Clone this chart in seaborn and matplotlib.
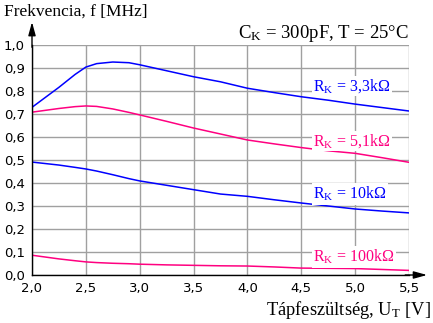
import matplotlib
matplotlib.use("Agg")
import matplotlib.pyplot as plt
import seaborn as sns
import pandas as pd

# ---- data ----
u_t = [2.0, 2.25, 2.4, 2.5, 2.6, 2.75, 2.9, 3.0, 3.25, 3.5, 3.75, 4.0, 4.25, 4.5, 4.75, 5.0, 5.25, 5.5]
f_3k3 = [0.729, 0.816, 0.872, 0.904, 0.919, 0.926, 0.923, 0.914, 0.888, 0.862, 0.840, 0.812, 0.793, 0.775, 0.760, 0.743, 0.728, 0.713]
f_5k1 = [0.708, 0.724, 0.732, 0.735, 0.733, 0.722, 0.707, 0.696, 0.668, 0.639, 0.613, 0.587, 0.570, 0.554, 0.540, 0.529, 0.510, 0.490]
f_10k = [0.491, 0.478, 0.468, 0.461, 0.452, 0.436, 0.419, 0.409, 0.390, 0.371, 0.352, 0.342, 0.327, 0.313, 0.300, 0.287, 0.278, 0.270]
f_100k = [0.086, 0.070, 0.062, 0.057, 0.054, 0.051, 0.049, 0.047, 0.044, 0.042, 0.040, 0.039, 0.035, 0.030, 0.029, 0.028, 0.024, 0.020]

series_names = ["3,3kΩ", "5,1kΩ", "10kΩ", "100kΩ"]
series_values = [f_3k3, f_5k1, f_10k, f_100k]

x_ticks = [2.0, 2.5, 3.0, 3.5, 4.0, 4.5, 5.0, 5.5]
x_ticklabels = ["2,0", "2,5", "3,0", "3,5", "4,0", "4,5", "5,0", "5,5"]
y_ticks = [0.0, 0.1, 0.2, 0.3, 0.4, 0.5, 0.6, 0.7, 0.8, 0.9, 1.0]
y_ticklabels = ["0,0", "0,1", "0,2", "0,3", "0,4", "0,5", "0,6", "0,7", "0,8", "0,9", "1,0"]

title_text = "Frekvencia, f [MHz]"
cond_text = r"$\mathregular{C_K}$ = 300pF, T = 25°C"
xlabel_text = r"Tápfeszültség, $\mathregular{U_T}$ [V]"

# ---- style ----
sns.set_style("white")
plt.rcParams["font.family"] = ["DejaVu Sans"]
plt.rcParams["mathtext.fontset"] = "custom"
plt.rcParams["mathtext.rm"] = "Liberation Serif"

BLUE = "#0000FF"
PINK = "#FF0080"
colors = [BLUE, PINK, BLUE, PINK]
label_pos = [(4.61, 0.822), (4.61, 0.583), (4.61, 0.352), (4.61, 0.078)]

fig = plt.figure(figsize=(4.33, 3.23), dpi=100)
ax = fig.add_axes([32 / 433, 1 - 275 / 323, 377 / 433, 230 / 323])

rows = []
for name, vals in zip(series_names, series_values):
    for x, y in zip(u_t, vals):
        rows.append({"U": x, "f": y, "R": name})
df = pd.DataFrame(rows)

sns.lineplot(data=df, x="U", y="f", hue="R", palette=dict(zip(series_names, colors)),
             linewidth=1.1, legend=False, ax=ax, zorder=3)

ax.set_xlim(2.0, 5.5)
ax.set_ylim(0.0, 1.0)
ax.set_xticks(x_ticks)
ax.set_xticklabels(x_ticklabels)
ax.set_yticks(y_ticks)
ax.set_yticklabels(y_ticklabels)
ax.set_xlabel("")
ax.set_ylabel("")

ax.grid(True, color="#A0A0A0", linewidth=1.0)
ax.set_axisbelow(True)
for s in ["top", "right"]:
    ax.spines[s].set_visible(False)
for s in ["left", "bottom"]:
    ax.spines[s].set_color("black")
    ax.spines[s].set_linewidth(1.0)
    ax.spines[s].set_zorder(4)

ax.tick_params(axis="both", direction="out", length=3, width=1, color="black",
               labelsize=9.5, pad=2, labelcolor="black")

# arrows on axes
ax.annotate("", xy=(0, 1.10), xytext=(0, 0.99), xycoords="axes fraction",
            arrowprops=dict(arrowstyle="-|>,head_length=0.8,head_width=0.22", color="black",
                            lw=1, shrinkA=0, shrinkB=0), annotation_clip=False)
ax.annotate("", xy=(1.048, 0), xytext=(0.99, 0), xycoords="axes fraction",
            arrowprops=dict(arrowstyle="-|>,head_length=0.8,head_width=0.22", color="black",
                            lw=1, shrinkA=0, shrinkB=0), annotation_clip=False)

# series labels
for name, c, (lx, ly) in zip(series_names, colors, label_pos):
    ax.text(lx, ly, r"$\mathregular{R_K}$ = " + name, color=c, fontsize=11.5,
            family="Liberation Serif", ha="left", va="center", zorder=5,
            bbox=dict(facecolor="white", edgecolor="none", pad=1.0))

fig.text(4 / 433, 1 - 12 / 323, title_text, fontsize=12.5, family="Liberation Serif",
         ha="left", va="center", color="black")
fig.text(409 / 433, 1 - 33 / 323, cond_text, fontsize=13.5, family="Liberation Serif",
         ha="right", va="center", color="black")
fig.text(431 / 433, 1 - 310 / 323, xlabel_text, fontsize=13.3, family="Liberation Serif",
         ha="right", va="center", color="black")

fig.savefig("out.png", dpi=100)
